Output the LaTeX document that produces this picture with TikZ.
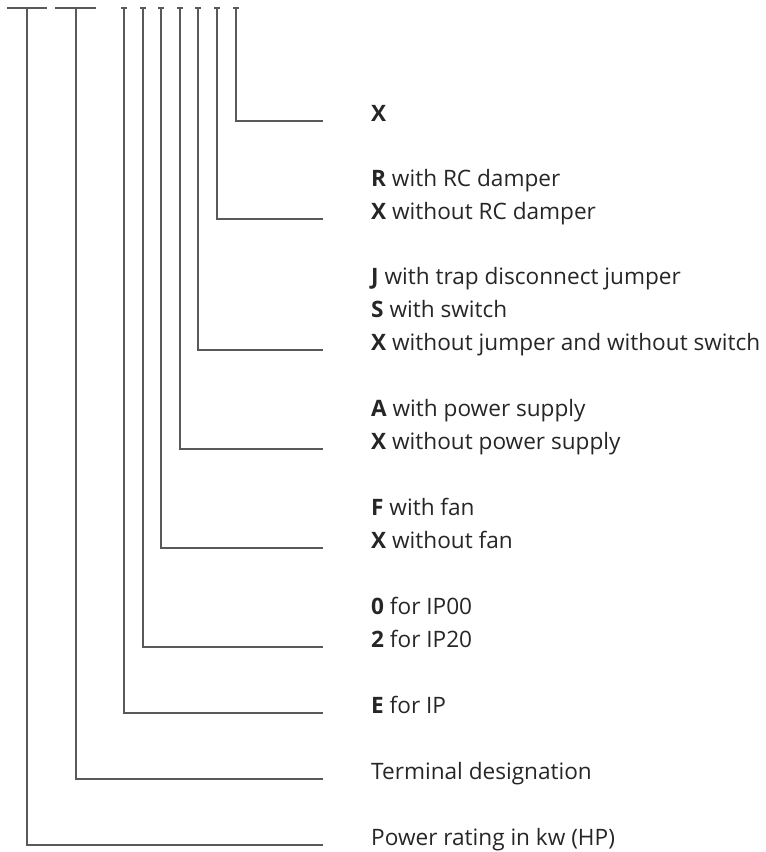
\documentclass[tikz,border=0pt]{standalone}
\usepackage{fontspec}
\setmainfont{Open Sans}
\begin{document}
\begin{tikzpicture}[x=1pt, y=-1pt,
    codeline/.style={draw=black!65, line width=1.1pt},
    desc/.style={anchor=base west, inner sep=0pt, text=black!85, font=\fontsize{22.6}{26}\selectfont}]
    \useasboundingbox (0,0) rectangle (766,852);
    % code field tops
    \draw [codeline] (7,8) -- (47,8);
    \draw [codeline] (55,8) -- (96,8);
    \coordinate (t1) at (27,8);
    \coordinate (t2) at (76,8);
    \foreach \n/\x in {3/124, 4/143, 5/161, 6/180, 7/198, 8/217, 9/236} {
        \coordinate (t\n) at (\x,8);
        \draw [codeline] (\x-3,8) -- (\x+3,8);
    }
    % line ends
    \coordinate (e9) at (323,121);
    \coordinate (e8) at (323,219);
    \coordinate (e7) at (323,350);
    \coordinate (e6) at (323,449);
    \coordinate (e5) at (323,548);
    \coordinate (e4) at (323,647);
    \coordinate (e3) at (323,713);
    \coordinate (e2) at (323,779);
    \coordinate (e1) at (323,845);
    % descriptions
    \node [desc] (x9) at (371,121) {\textbf{X}};
    \node [desc] (r8) at (371,186) {\textbf{R} with RC damper};
    \node [desc] (x8) at (371,219) {\textbf{X} without RC damper};
    \node [desc] (j7) at (371,284) {\textbf{J} with trap disconnect jumper};
    \node [desc] (s7) at (371,317) {\textbf{S} with switch};
    \node [desc] (x7) at (371,350) {\textbf{X} without jumper and without switch};
    \node [desc] (a6) at (371,416) {\textbf{A} with power supply};
    \node [desc] (x6) at (371,449) {\textbf{X} without power supply};
    \node [desc] (f5) at (371,515) {\textbf{F} with fan};
    \node [desc] (x5) at (371,548) {\textbf{X} without fan};
    \node [desc] (o4) at (371,614) {\textbf{0} for IP00};
    \node [desc] (z4) at (371,647) {\textbf{2} for IP20};
    \node [desc] (e3t) at (371,713) {\textbf{E} for IP};
    \node [desc] (term) at (371,779) {Terminal designation};
    \node [desc] (power) at (371,845) {Power rating in kw (HP)};
    % connectors
    \foreach \n in {1,...,9}
        \draw [codeline] (t\n) |- (e\n);
\end{tikzpicture}
\end{document}
